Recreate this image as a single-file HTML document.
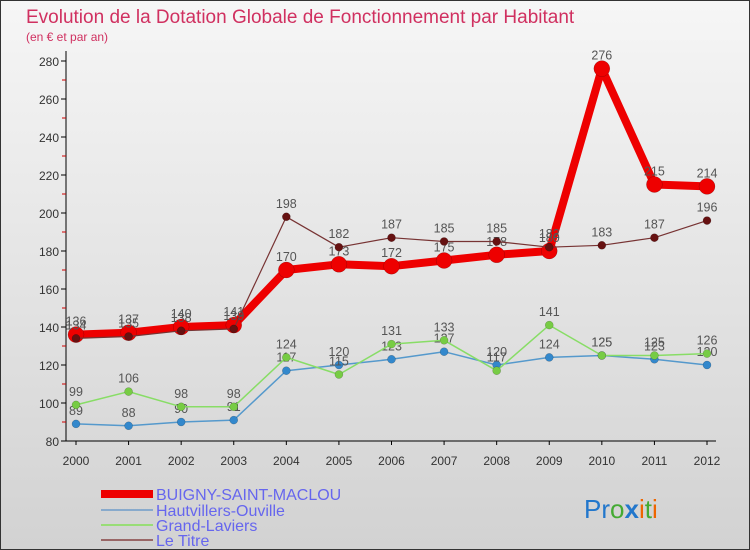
<!DOCTYPE html>
<html><head><meta charset="utf-8"><style>
body{margin:0}
#c{width:750px;height:550px;position:relative;background:linear-gradient(#f6f6f6,#d2d2d2);font-family:"Liberation Sans",sans-serif;overflow:hidden;box-sizing:border-box;border:1px solid #333}
</style></head><body>
<div id="c">
<svg id="s" width="750" height="550" style="position:absolute;left:0;top:0">
<text x="25" y="22" font-size="19" fill="#d03060">Evolution de la Dotation Globale de Fonctionnement par Habitant</text>
<text x="25" y="40" font-size="12" fill="#d03060">(en € et par an)</text>
<g id="axes"></g><g id="series"></g>
<g>
<line x1="100" y1="493" x2="152" y2="493" stroke="#ee0000" stroke-width="8"/>
<text x="155" y="499" font-size="16" fill="#6666ee">BUIGNY-SAINT-MACLOU</text>
<line x1="100" y1="509" x2="152" y2="509" stroke="#88aacc" stroke-width="2"/>
<text x="155" y="515" font-size="16" fill="#6666ee">Hautvillers-Ouville</text>
<line x1="100" y1="524" x2="152" y2="524" stroke="#99dd77" stroke-width="2"/>
<text x="155" y="530" font-size="16" fill="#6666ee">Grand-Laviers</text>
<line x1="100" y1="539" x2="152" y2="539" stroke="#996666" stroke-width="2"/>
<text x="155" y="545" font-size="16" fill="#6666ee">Le Titre</text>
</g>
<text x="583" y="517" font-size="26"><tspan fill="#2277cc">Pr</tspan><tspan fill="#44aa33">o</tspan><tspan fill="#2277cc" font-weight="bold">x</tspan><tspan fill="#ee6600">i</tspan><tspan fill="#44aa33">t</tspan><tspan fill="#ee6600">i</tspan></text>
</svg>
</div>
<script>
const years=[2000,2001,2002,2003,2004,2005,2006,2007,2008,2009,2010,2011,2012];
const yTicks=[80,100,120,140,160,180,200,220,240,260,280];
const buigny=[136,137,140,141,170,173,172,175,178,180,276,215,214];
const hautvillers=[89,88,90,91,117,120,123,127,120,124,125,123,120];
const grandLaviers=[99,106,98,98,124,115,131,133,117,141,125,125,126];
const leTitre=[134,135,138,139,198,182,187,185,185,182,183,187,196];
const NS="http://www.w3.org/2000/svg";
const X=i=>75+i*(706-75)/12;
const Y=v=>440-(v-80)*1.9;
function mk(t,a,p){const e=document.createElementNS(NS,t);for(const k in a)e.setAttribute(k,a[k]);p.appendChild(e);return e;}
const ax=document.getElementById('axes');
let l=mk('line',{x1:65,y1:50,x2:65,y2:440,stroke:'#000'},ax);


l=mk('line',{x1:65,y1:440,x2:715,y2:440,stroke:'#000'},ax);


for(let v=90;v<=270;v+=20){const t=mk('line',{x1:61,y1:Y(v),x2:65,y2:Y(v),stroke:'#cc0000'},ax);

}
yTicks.forEach(v=>{const t=mk('text',{x:58,y:Y(v)+5,'font-size':12,fill:'#333','text-anchor':'end'},ax);t.textContent=v;


const k=mk('line',{x1:60,y1:Y(v),x2:65,y2:Y(v),stroke:'#000'},ax);

});
years.forEach((y,i)=>{const t=mk('text',{x:X(i),y:464,'font-size':12,fill:'#333','text-anchor':'middle'},ax);t.textContent=y;


const k=mk('line',{x1:X(i),y1:440,x2:X(i),y2:444,stroke:'#000'},ax);

});
const sg=document.getElementById('series');
function series(d,name,color,w,r,ptc){const g=mk('g',{},sg);


const p=mk('polyline',{points:d.map((v,i)=>X(i)+','+Y(v)).join(' '),fill:'none',stroke:color,'stroke-width':w,'stroke-linejoin':'round'},g);


d.forEach((v,i)=>{const c=mk('circle',{cx:X(i),cy:Y(v),r:r,fill:ptc,stroke:'rgba(0,0,0,0.3)','stroke-width':0.5},g);


const t=mk('text',{x:X(i),y:Y(v)-9,'font-size':12.5,fill:'#555','text-anchor':'middle'},g);t.textContent=v;

});}
series(hautvillers,'hautvillers','#5599cc',1.5,4,'#3388cc');
series(grandLaviers,'grand-laviers','#88dd66',1.5,4,'#77cc44');
series(buigny,'buigny','#ee0000',8,8,'#ee0000');
series(leTitre,'le-titre','#773333',1.2,4,'#661111');
</script>
</body></html>
